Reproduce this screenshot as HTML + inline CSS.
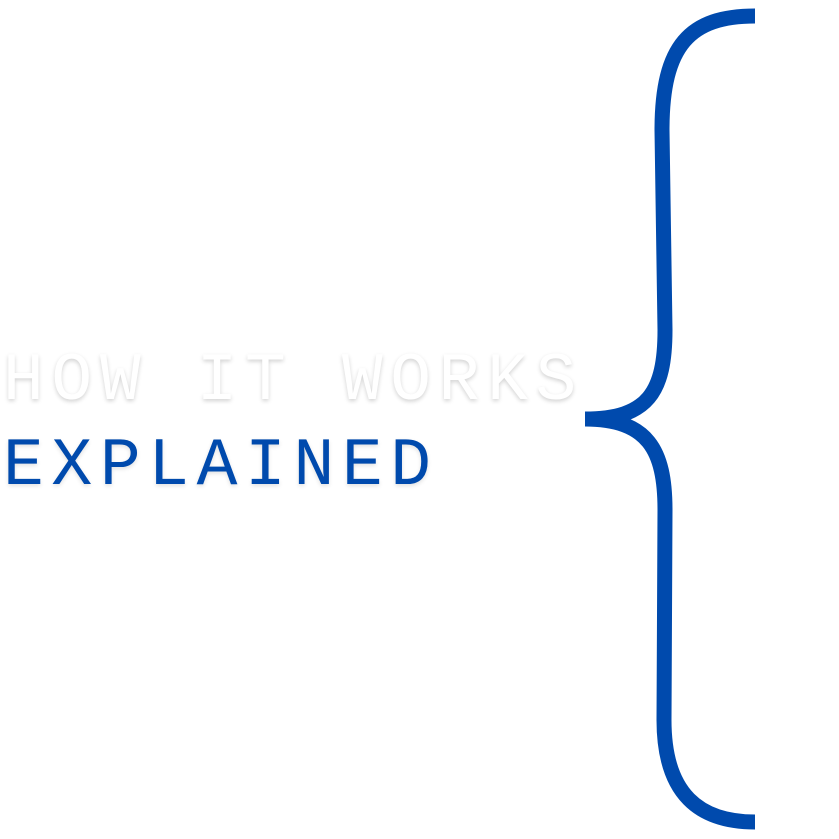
<!DOCTYPE html>
<html><head><meta charset="utf-8"><style>
html,body{margin:0;padding:0;background:#fff;width:839px;height:839px;overflow:hidden;position:relative}
.t{position:absolute;left:3px;font-family:"Liberation Mono","DejaVu Sans Mono",monospace;font-size:68px;line-height:1;letter-spacing:7.6px;white-space:nowrap}
.a{top:348px;color:#fff;text-shadow:0 2px 4px rgba(0,0,0,0.18)}
.b{top:433px;color:#004aad;text-shadow:0 2px 4px rgba(0,0,0,0.12)}
</style></head><body>
<svg width="839" height="839" style="position:absolute;left:0;top:0">
<path d="M755,16 C690,16 662,45 662,130 L665,330 C665,392 648,419 585,419 C648,419 665,450 665,510 L664,720 C664,795 700,822 755,822" fill="none" stroke="#004aad" stroke-width="15"/>
</svg>
<div class="t a">HOW IT WORKS</div>
<div class="t b">EXPLAINED</div>
</body></html>
